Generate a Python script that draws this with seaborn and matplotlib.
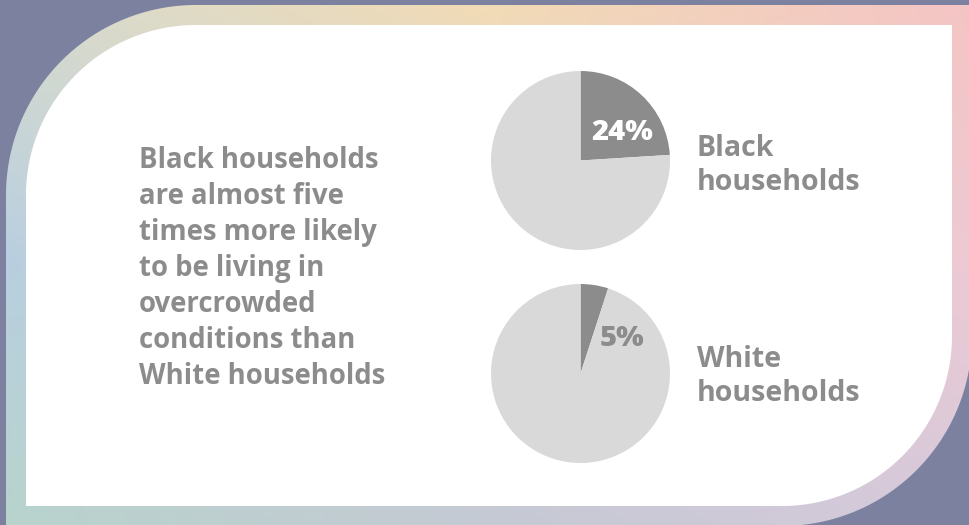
import numpy as np
import matplotlib
matplotlib.use('Agg')
import matplotlib.pyplot as plt
from matplotlib.path import Path
from matplotlib.patches import PathPatch
import seaborn as sns

# %% data
groups = ['Black\nhouseholds', 'White\nhouseholds']
shares = [24, 5]
pct_labels = ['24%', '5%']
headline = ['Black households', 'are almost five', 'times more likely',
            'to be living in', 'overcrowded', 'conditions than', 'White households']

# %% style
sns.set_theme(style='white')
plt.rcParams['font.family'] = ['Open Sans', 'DejaVu Sans']
pie_colors = sns.color_palette(['#8c8c8c', '#d9d9d9'])
txt_gray = '#8c8c8c'
W, H = 969, 525


def panel_path(left, top, right, bottom, r):
    # rounded top-left and bottom-right corners, square elsewhere (y axis points down)
    t1 = np.linspace(np.pi, 1.5 * np.pi, 80)
    t2 = np.linspace(0, 0.5 * np.pi, 80)
    pts = [(left + r + r * np.cos(a), top + r + r * np.sin(a)) for a in t1]
    pts += [(right, top)]
    pts += [(right - r + r * np.cos(a), bottom - r + r * np.sin(a)) for a in t2]
    pts += [(left, bottom), pts[0]]
    codes = [Path.MOVETO] + [Path.LINETO] * (len(pts) - 2) + [Path.CLOSEPOLY]
    return Path(pts, codes)


# gradient for the border, from a small grid of colours
grid = np.array([
    [[0.84, 0.86, 0.81], [0.95, 0.86, 0.71], [0.96, 0.77, 0.77]],
    [[0.72, 0.81, 0.88], [0.85, 0.83, 0.83], [0.93, 0.79, 0.83]],
    [[0.72, 0.83, 0.80], [0.77, 0.79, 0.83], [0.84, 0.79, 0.86]],
])
xs = np.linspace(0, 2, W)
ys = np.linspace(0, 2, H)
rows = np.stack([np.stack([np.interp(xs, [0, 1, 2], grid[i, :, c]) for c in range(3)], -1)
                 for i in range(3)])
grad = np.stack([np.stack([np.interp(ys, [0, 1, 2], rows[:, j, c]) for j in range(W)], -1)
                 for c in range(3)], -1)

fig = plt.figure(figsize=(W / 100, H / 100), dpi=100)
fig.patch.set_facecolor('#7b819f')

bg = fig.add_axes([0, 0, 1, 1])
bg.set_xlim(0, W)
bg.set_ylim(H, 0)
bg.axis('off')

outer = PathPatch(panel_path(6, 5, 972, 526, 190), facecolor='none', edgecolor='none')
bg.add_patch(outer)
im = bg.imshow(grad, extent=(0, W, H, 0), aspect='auto', interpolation='bilinear')
im.set_clip_path(outer)
bg.add_patch(PathPatch(panel_path(26, 25, 952, 506, 170), facecolor='white', edgecolor='none'))

# headline text on the left
for i, line in enumerate(headline):
    bg.text(139, 168 + 36 * i, line, fontsize=19.8, fontweight='bold', color=txt_gray,
            ha='left', va='baseline')

# pies
pie_boxes = [(491, 71), (491, 284)]
label_base = [156, 367]
pct_pos = [(622, 133), (622, 339)]
pct_colors = ['white', txt_gray]
for k in range(len(shares)):
    x0, y0 = pie_boxes[k]
    ax = fig.add_axes([x0 / W, 1 - (y0 + 179) / H, 179 / W, 179 / H])
    ax.pie([shares[k], 100 - shares[k]], colors=pie_colors, startangle=90,
           counterclock=False, radius=1, frame=False,
           wedgeprops=dict(linewidth=0))
    ax.set_xlim(-1, 1)
    ax.set_ylim(-1, 1)
    ax.axis('off')

# overlay for labels, so they sit above the pies
top = fig.add_axes([0, 0, 1, 1])
top.set_xlim(0, W)
top.set_ylim(H, 0)
top.axis('off')
top.patch.set_alpha(0)
for k in range(len(shares)):
    for j, part in enumerate(groups[k].split('\n')):
        top.text(697, label_base[k] + 34 * j, part, fontsize=20.5, fontweight='bold',
                 color=txt_gray, ha='left', va='baseline')
    top.text(pct_pos[k][0], pct_pos[k][1], pct_labels[k], fontsize=21, fontweight='heavy',
             color=pct_colors[k], ha='center', va='center')

fig.savefig('out.png', dpi=100, facecolor=fig.get_facecolor())
